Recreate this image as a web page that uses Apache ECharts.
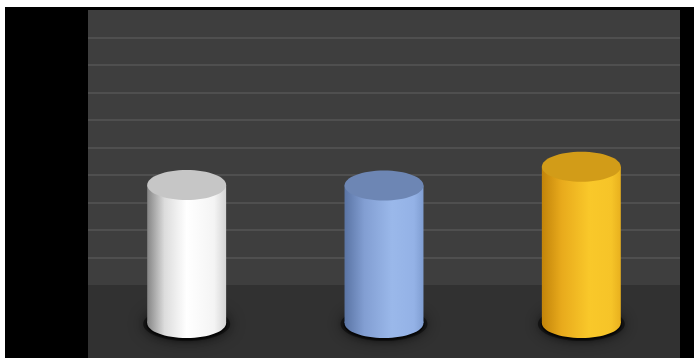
<!DOCTYPE html>
<html><head><meta charset="utf-8">
<script src="https://cdn.jsdelivr.net/npm/echarts@6/dist/echarts.min.js"></script>
<style>html,body{margin:0;padding:0;background:#fff;overflow:hidden;width:694px;height:358px}#c{position:absolute;left:5px;top:7px;width:689px;height:361px;background:#000}</style>
</head><body><div id="c"></div>
<script>
// ---- data ----
const categories = ['Column 1', 'Column 2', 'Column 3'];
const values = [36.4, 36.2, 43.0];
const baseValue = -13.8;          // floor level the cylinders stand on
const yMin = -30, yMax = 100, yInterval = 10;

// ---- styles ----
const bodyStops = [
  [[0,'#858585'],[0.22,'#dcdcdc'],[0.5,'#ffffff'],[0.85,'#f4f4f4'],[1,'#d4d4d4']],
  [[0,'#5a74a4'],[0.25,'#829ed2'],[0.6,'#9ab8ea'],[0.88,'#94b2e6'],[1,'#809ed2']],
  [[0,'#c2840a'],[0.25,'#e8aa1c'],[0.6,'#f9c82a'],[0.88,'#f6c428'],[1,'#e8b01e']]
];
const topColors = ['#c6c6c6', '#6d86b4', '#d29c18'];

const ticksCount = (yMax - yMin) / yInterval + 1;
const lineColors = [];
for (let k = 0; k < ticksCount; k++) {
  const v = yMin + k * yInterval;
  lineColors.push(v > 0 && v < yMax ? '#4f4f4f' : 'rgba(0,0,0,0)');
}
const areaColors = [];
for (let k = 0; k < ticksCount - 1; k++) {
  const v = yMin + k * yInterval;
  areaColors.push(v < 0 ? '#313131' : '#3e3e3e');
}

const chart = echarts.init(document.getElementById('c'), null, {renderer: 'canvas'});
chart.setOption({
  backgroundColor: '#000',
  animation: false,
  grid: {left: 83, right: 14, top: 3, bottom: 0.5},
  xAxis: {
    type: 'category', data: categories,
    axisLine: {show: false}, axisTick: {show: false}, axisLabel: {show: false}
  },
  yAxis: {
    type: 'value', min: yMin, max: yMax, interval: yInterval,
    axisLine: {show: false}, axisTick: {show: false}, axisLabel: {show: false},
    splitLine: {show: true, lineStyle: {color: lineColors, width: 2}},
    splitArea: {show: true, areaStyle: {color: areaColors}}
  },
  series: [{
    type: 'custom',
    clip: false,
    data: values.map((v, i) => [i, v]),
    renderItem: function (params, api) {
      const i = api.value(0);
      const v = api.value(1);
      const top = api.coord([i, v]);
      const base = api.coord([i, baseValue]);
      const band = api.size([1, 0])[0];
      const w = band * 0.40;
      const rx = w / 2, ry = w * 0.19;
      const grad = new echarts.graphic.LinearGradient(0, 0, 1, 0,
        bodyStops[i].map(s => ({offset: s[0], color: s[1]})));
      return {
        type: 'group',
        children: [
          {type: 'ellipse', shape: {cx: base[0], cy: base[1] + 1, rx: rx + 4, ry: ry + 2},
           style: {fill: 'rgba(0,0,0,0.45)', shadowBlur: 16, shadowColor: 'rgba(0,0,0,1)'}},
          {type: 'ellipse', shape: {cx: base[0], cy: base[1] + 1, rx: rx + 1, ry: ry + 1},
           style: {fill: 'rgba(0,0,0,0.5)', shadowBlur: 6, shadowColor: 'rgba(0,0,0,1)'}},
          {type: 'rect', shape: {x: top[0] - rx, y: top[1], width: w, height: base[1] - top[1]},
           style: {fill: grad}},
          {type: 'ellipse', shape: {cx: base[0], cy: base[1], rx: rx, ry: ry},
           style: {fill: grad}},
          {type: 'ellipse', shape: {cx: top[0], cy: top[1], rx: rx, ry: ry},
           style: {fill: topColors[i]}}
        ]
      };
    }
  }]
});
</script>
</body></html>
